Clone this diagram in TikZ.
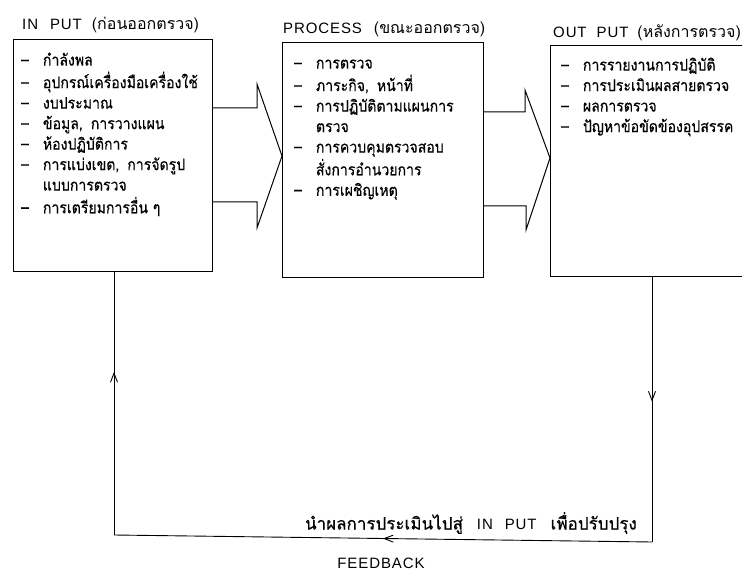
\documentclass[tikz,border=0pt]{standalone}
\usepackage{fontspec}
\setmainfont{Liberation Sans}[LetterSpace=6]
\newfontfamily\thaifont[Script=Thai]{Loma}
\newfontfamily\thaibold[Script=Thai,FakeBold=0.4]{Loma}
\newfontfamily\thainarrow[Script=Thai,FakeBold=0.4,FakeStretch=0.88]{Loma}
\usetikzlibrary{arrows.meta,calc,positioning,decorations.markings}

\tikzset{
  box/.style={draw, line width=1pt, inner sep=0pt, anchor=north west},
  items/.style={inner sep=0pt, anchor=north west, align=left,
    font=\thainarrow\fontsize{16}{20.5}\selectfont},
  title/.style={inner sep=0pt, anchor=west, font=\fontsize{15}{18}\selectfont},
  fbtitle/.style={font=\thaibold\fontsize{17}{20}\selectfont},
  bigarrow/.style={line width=1pt, line join=miter},
  fb/.style={line width=0.9pt},
  fbmark/.style={postaction={decorate}, decoration={markings,
    mark=at position #1 with {\arrow{Straight Barb[length=9pt,width=7pt]}}}}
}
\newcommand{\thtitle}[1]{{\thaifont\fontsize{16}{20}\selectfont(#1)}}

\begin{document}
\begin{tikzpicture}[x=1pt, y=-1pt]
  \useasboundingbox (0,0) rectangle (742,572);

  % the three boxes
  \node[box, minimum width=199pt, minimum height=232pt] (in) at (13,39) {};
  \node[box, minimum width=201pt, minimum height=235pt] (proc) at (282,42) {};
  \node[box, minimum width=220pt, minimum height=231pt] (out) at (550,45) {};

  % titles
  \node[title] (intitle) at (22,25)
    {IN\hspace{12pt}PUT\hspace{10pt}\thtitle{ก่อนออกตรวจ}};
  \node[title] (proctitle) at (283,29)
    {PROCESS\hspace{12pt}\thtitle{ขณะออกตรวจ}};
  \node[title] (outtitle) at (553,33)
    {OUT\hspace{10pt}PUT\hspace{9pt}\thtitle{หลังการตรวจ}};

  % lists
  \node[items] (inlist) at ($(in.north west)+(8,12)$) {%
    \begin{tabular}{@{}l@{\hspace{14pt}}l@{}}
      – & กำลังพล\\
      – & อุปกรณ์เครื่องมือเครื่องใช้\\
      – & งบประมาณ\\
      – & ข้อมูล,\enspace การวางแผน\\
      – & ห้องปฏิบัติการ\\
      – & การแบ่งเขต,\enspace การจัดรูป\\
        & แบบการตรวจ\\
      – & การเตรียมการอื่น ๆ
    \end{tabular}};
  \node[items] (proclist) at ($(proc.north west)+(12,12)$) {%
    \begin{tabular}{@{}l@{\hspace{14pt}}l@{}}
      – & การตรวจ\\
      – & ภาระกิจ,\enspace หน้าที่\\
      – & การปฏิบัติตามแผนการ\\
        & ตรวจ\\
      – & การควบคุมตรวจสอบ\\
        & สั่งการอำนวยการ\\
      – & การเผชิญเหตุ
    \end{tabular}};
  \node[items] (outlist) at ($(out.north west)+(11,11)$) {%
    \begin{tabular}{@{}l@{\hspace{14pt}}l@{}}
      – & การรายงานการปฏิบัติ\\
      – & การประเมินผลสายตรวจ\\
      – & ผลการตรวจ\\
      – & ปัญหาข้อขัดข้องอุปสรรค
    \end{tabular}};

  % big arrows between the boxes
  \draw[bigarrow] (in.east |- 0,108) -- (257,108) -- (257,84)
    -- (proc.west |- 0,156) -- (257,228) -- (257,202) -- (in.east |- 0,202);
  \draw[bigarrow] (proc.east |- 0,112) -- (525,112) -- (525,90)
    -- (out.west |- 0,158) -- (526,230) -- (526,206) -- (proc.east |- 0,206);

  % feedback loop
  \coordinate (fbR) at (652,542);
  \coordinate (fbL) at (114,535);
  \draw[fb, fbmark=0.47] (out.south -| fbR) -- (fbR);
  \draw[fb, fbmark=0.5] (fbR) -- (fbL);
  \draw[fb, fbmark=0.62] (fbL) -- (in.south -| fbL);

  \node[inner sep=0pt, anchor=east, fbtitle] (fbtext) at (637,523)
    {นำผลการประเมินไปสู่\hspace{14pt}{\rmfamily\fontsize{15}{18}\selectfont IN\hspace{12pt}PUT}\hspace{14pt}เพื่อปรับปรุง};
  \node[title, anchor=center] (fblabel) at (381,563) {FEEDBACK};
\end{tikzpicture}
\end{document}
